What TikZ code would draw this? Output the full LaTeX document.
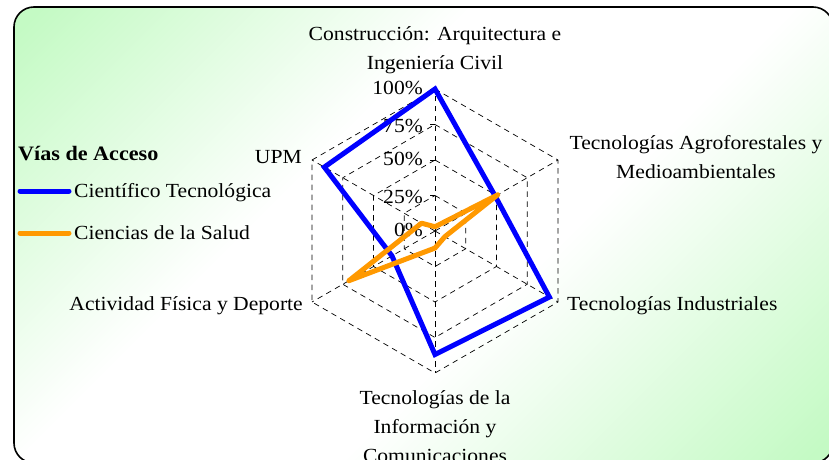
\documentclass[tikz,border=0pt]{standalone}
\usepackage{fontspec}
\setmainfont[FakeStretch=1.08]{Liberation Serif}
\definecolor{bgg}{RGB}{196,250,196}
\definecolor{orangeS}{RGB}{255,153,0}
\definecolor{blueS}{RGB}{0,0,255}
\pgfdeclarehorizontalshading{bgshade}{100bp}{color(0bp)=(bgg); color(16bp)=(bgg); color(40bp)=(white); color(58bp)=(white); color(84bp)=(bgg); color(100bp)=(bgg)}
\begin{document}
\begin{tikzpicture}[x=1pt,y=1pt,
  grid/.style={black, line width=0.7pt, dash pattern=on 5.5pt off 4.5pt},
  tickm/.style={black, line width=0.7pt},
  lbl/.style={inner sep=0pt, font=\fontsize{20}{24}\selectfont},
  serA/.style={draw=blueS, line width=5pt, line join=miter},
  serB/.style={draw=orangeS, line width=5pt, line join=round},
  legA/.style={draw=blueS, line width=5pt, line cap=round},
  legB/.style={draw=orangeS, line width=5pt, line cap=round}]
\useasboundingbox (0,0) rectangle (829,459);
\path[draw=black, line width=1.6pt, rounded corners=20pt,
  shading=bgshade, shading angle=-45]
  (14,-4) rectangle (833,452);
\coordinate (C) at (435,228);
\begin{scope}[shift={(C)}]
  % axis ends
  \coordinate (ax0) at (90:142);
  \coordinate (ax1) at (30:142);
  \coordinate (ax2) at (-30:142);
  \coordinate (ax3) at (-90:142);
  \coordinate (ax4) at (210:142);
  \coordinate (ax5) at (150:142);
  % rings
  \foreach \f in {0.25,0.5,0.75,1}{
    \draw[grid] (90:{\f*142}) -- (30:{\f*142}) -- (-30:{\f*142}) -- (-90:{\f*142})
      -- (210:{\f*142}) -- (150:{\f*142}) -- cycle;
    \draw[tickm] (-5,{\f*142}) -- (0,{\f*142});
  }
  \foreach \i in {0,...,5}{ \draw[grid] (C) -- (ax\i); }
\end{scope}
% percentage labels
\node[lbl, anchor=base east] (p100) at (423,365) {100\%};
\node[lbl, anchor=base east] (p75) at (423,327) {75\%};
\node[lbl, anchor=base east] (p50) at (423,294) {50\%};
\node[lbl, anchor=base east] (p25) at (423,256) {25\%};
\node[lbl, anchor=base east] (p0) at (423,223) {0\%};
% axis labels
\node[lbl, anchor=base] (t1a) at (435,418) {Construcción: Arquitectura e};
\node[lbl, anchor=base] (t1b) at (435,390) {Ingeniería Civil};
\node[lbl, anchor=base] (t2a) at (696,310) {Tecnologías Agroforestales y};
\node[lbl, anchor=base] (t2b) at (696,281) {Medioambientales};
\node[lbl, anchor=base west] (t3) at (567,149) {Tecnologías Industriales};
\node[lbl, anchor=base] (t4a) at (435,55) {Tecnologías de la};
\node[lbl, anchor=base] (t4b) at (435,26) {Información y};
\node[lbl, anchor=base] (t4c) at (435,-3) {Comunicaciones};
\node[lbl, anchor=base east] (t5) at (303,149) {Actividad Física y Deporte};
\node[lbl, anchor=base east] (t6) at (302,296) {UPM};
% data
\begin{scope}[shift={(C)}]
  \draw[serA] (90:142) -- (30:{0.49*142}) -- (-30:{0.93*142}) -- (-90:{0.87*142})
    -- (210:{0.35*142}) -- (150:{0.90*142}) -- cycle;
  \draw[serB] (90:{0.03*142}) -- (30:{0.51*142}) -- (-30:{0.08*142}) -- (-90:{0.12*142})
    -- (210:{0.70*142}) -- (150:{0.11*142}) -- cycle;
\end{scope}
% legend
\node[lbl, anchor=base west, font=\fontsize{20.5}{24}\selectfont\bfseries] (leg) at (18,299) {Vías de Acceso};
\coordinate (lA1) at (20,268); \coordinate (lA2) at (69,268);
\coordinate (lB1) at (20,226); \coordinate (lB2) at (69,226);
\draw[legA] (lA1) -- (lA2);
\draw[legB] (lB1) -- (lB2);
\node[lbl, anchor=base west] (legAt) at (74,262) {Científico Tecnológica};
\node[lbl, anchor=base west] (legBt) at (74,220) {Ciencias de la Salud};
\end{tikzpicture}
\end{document}
